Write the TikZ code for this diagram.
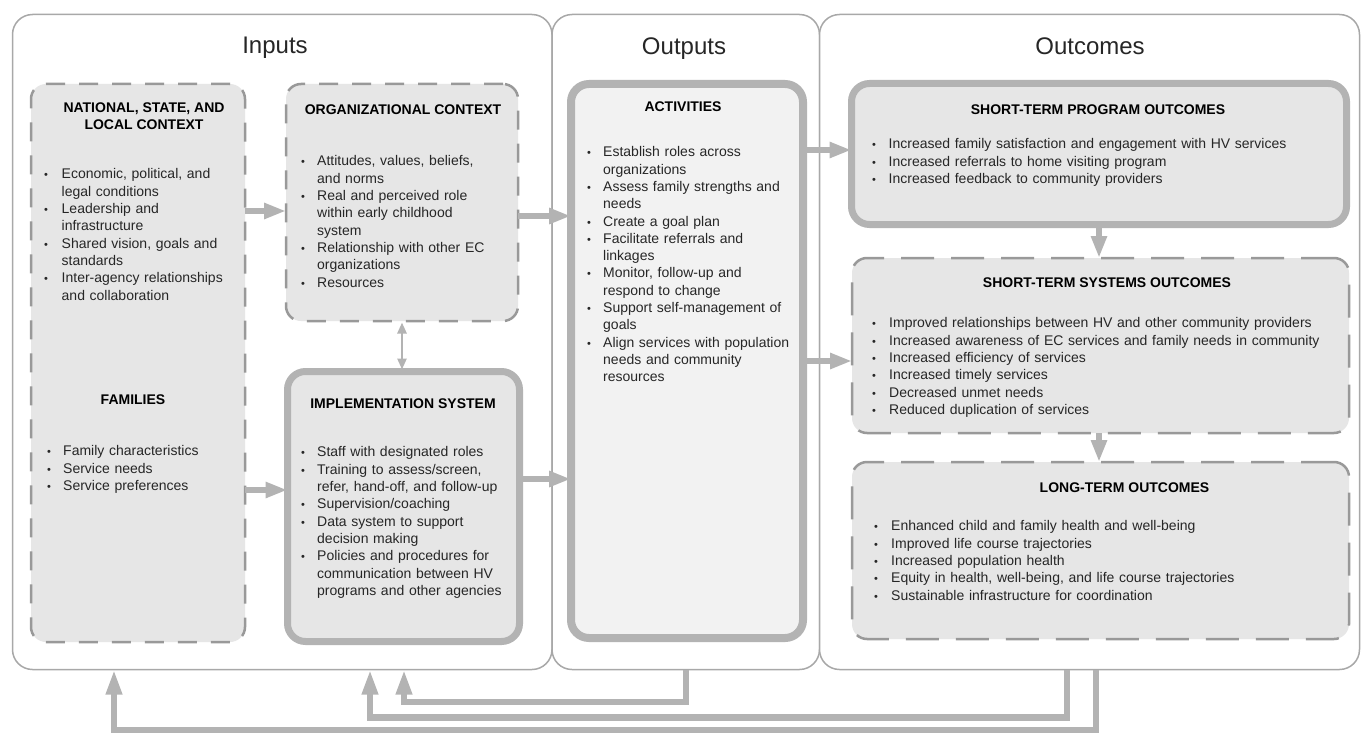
\documentclass[tikz,border=0pt]{standalone}
\usepackage{fontspec}
\setmainfont{Liberation Sans}
\usetikzlibrary{arrows.meta}
\definecolor{panelc}{HTML}{A8A8A8}
\definecolor{boxfill}{HTML}{E6E6E6}
\definecolor{actfill}{HTML}{F2F2F2}
\definecolor{dashc}{HTML}{999999}
\definecolor{thickc}{HTML}{B3B3B3}
\definecolor{arrc}{HTML}{B3B3B3}
\definecolor{txt}{HTML}{262626}
\newlength\hangw
\newcommand\bul{{\fontsize{11}{11}\selectfont\textbullet}}
\newcommand\bi{\par\hangindent=\hangw\hangafter=1\noindent\makebox[\hangw][l]{\strut\bul}}
\begin{document}
\begin{tikzpicture}[x=1pt,y=-1pt,
  panel/.style={draw=panelc, line width=1.5pt, rounded corners=20pt, inner sep=0pt, outer sep=0pt, fill=white},
  dbox/.style={draw=dashc, line width=2.5pt, dash pattern=on 19pt off 14pt, fill=boxfill, rounded corners=15pt, inner sep=0pt, outer sep=0pt},
  dboxw/.style={dbox, dash pattern=on 33pt off 17pt},
  tbox/.style={draw=thickc, line width=7pt, fill=boxfill, rounded corners=18pt, inner sep=0pt, outer sep=0pt},
  ptitle/.style={font=\fontsize{24}{28}\selectfont, inner sep=0pt, anchor=base, text=txt},
  ttl/.style={font=\bfseries\fontsize{14}{17}\selectfont, inner sep=0pt, text=black, align=center},
  blist/.style={anchor=north west, inner sep=0pt, text width=480pt, font=\fontsize{14}{17.3}\selectfont, text=txt, align=left},
  arr/.style={draw=arrc, line width=6.5pt, -{Triangle[length=22pt,width=15pt]}, arrc},
  darr/.style={draw=arrc, line width=2.5pt, {Triangle[length=11pt,width=9pt]}-{Triangle[length=11pt,width=9pt]}, arrc},
  fb/.style={arr, -{Triangle[length=25pt,width=15pt]}}
]
\useasboundingbox (0,0) rectangle (1362,733);

% panels
\node[panel, minimum width=539.5pt, minimum height=655pt] (inp) at (282.25,342) {};
\node[panel, minimum width=267.5pt, minimum height=655pt] (outp) at (685.75,342) {};
\node[panel, minimum width=540pt, minimum height=655pt] (outc) at (1089.5,342) {};
\node[ptitle] (tin) at (275,54) {Inputs};
\node[ptitle] (tout) at (684,55) {Outputs};
\node[ptitle] (toc) at (1090,55) {Outcomes};

% boxes
\node[dbox, minimum width=214pt, minimum height=558pt] (nat) at (138,363) {};
\node[dbox, minimum width=232pt, minimum height=237pt] (org) at (402,202.5) {};
\node[tbox, minimum width=232pt, minimum height=270pt] (impl) at (403.5,506.5) {};
\node[tbox, fill=actfill, line width=8pt, minimum width=232pt, minimum height=554pt] (act) at (687,361) {};
\node[tbox, minimum width=495pt, minimum height=141pt] (prog) at (1099,154) {};
\node[dboxw, minimum width=497pt, minimum height=175pt] (sys) at (1100.5,345.5) {};
\node[dboxw, minimum width=497pt, minimum height=177pt] (lt) at (1100.5,550.5) {};

% titles
\node[ttl, anchor=north] (natt) at (144,103) {NATIONAL, STATE, AND\\LOCAL CONTEXT};
\node[ttl, anchor=base] (famt) at (133,404) {FAMILIES};
\node[ttl, anchor=base] (orgt) at (403,114) {ORGANIZATIONAL CONTEXT};
\node[ttl, anchor=base] (implt) at (403,408) {IMPLEMENTATION SYSTEM};
\node[ttl, anchor=base] (actt) at (683,112) {ACTIVITIES};
\node[ttl, anchor=base] (progt) at (1098,114) {SHORT-TERM PROGRAM OUTCOMES};
\node[ttl, anchor=base] (syst) at (1107,287) {SHORT-TERM SYSTEMS OUTCOMES};
\node[ttl, anchor=base] (ltt) at (1124.5,492) {LONG-TERM OUTCOMES};

% lists
\node[blist] (natl) at (44,161.4) {\setlength\hangw{17.5pt}%
\bi Economic, political, and\newline legal conditions
\bi Leadership and\newline infrastructure
\bi Shared vision, goals and\newline standards
\bi Inter-agency relationships\newline and collaboration\par};
\node[blist] (faml) at (47,438.4) {\setlength\hangw{16pt}%
\bi Family characteristics
\bi Service needs
\bi Service preferences\par};
\node[blist] (orgl) at (301,148.4) {\setlength\hangw{16pt}%
\bi Attitudes, values, beliefs,\newline and norms
\bi Real and perceived role\newline within early childhood\newline system
\bi Relationship with other EC\newline organizations
\bi Resources\par};
\node[blist] (impll) at (301,439.4) {\setlength\hangw{16pt}%
\bi Staff with designated roles
\bi Training to assess/screen,\newline refer, hand-off, and follow-up
\bi Supervision/coaching
\bi Data system to support\newline decision making
\bi Policies and procedures for\newline communication between HV\newline programs and other agencies\par};
\node[blist] (actl) at (587,139.4) {\setlength\hangw{16pt}%
\bi Establish roles across\newline organizations
\bi Assess family strengths and\newline needs
\bi Create a goal plan
\bi Facilitate referrals and\newline linkages
\bi Monitor, follow-up and\newline respond to change
\bi Support self-management of\newline goals
\bi Align services with population\newline needs and community\newline resources\par};
\node[blist] (progl) at (872,131.4) {\setlength\hangw{16.5pt}%
\bi Increased family satisfaction and engagement with HV services
\bi Increased referrals to home visiting program
\bi Increased feedback to community providers\par};
\node[blist] (sysl) at (872,310.4) {\setlength\hangw{17pt}%
\bi Improved relationships between HV and other community providers
\bi Increased awareness of EC services and family needs in community
\bi Increased efficiency of services
\bi Increased timely services
\bi Decreased unmet needs
\bi Reduced duplication of services\par};
\node[blist] (ltl) at (874,513.4) {\setlength\hangw{17pt}%
\bi Enhanced child and family health and well-being
\bi Improved life course trajectories
\bi Increased population health
\bi Equity in health, well-being, and life course trajectories
\bi Sustainable infrastructure for coordination\par};

% helper levels
\coordinate (y211) at (0,211);
\coordinate (y490) at (0,490);
\coordinate (y216) at (0,216);
\coordinate (y479) at (0,479);
\coordinate (y150) at (0,150);
\coordinate (y361) at (0,361);
\coordinate (x1099) at (1099,0);
\coordinate (x402) at (402,0);

% arrows
\draw[arr] (nat.east |- y211) -- (org.west |- y211);
\draw[arr] (nat.east |- y490) -- (impl.west |- y490);
\draw[arr] (org.east |- y216) -- (act.west |- y216);
\draw[arr] (impl.east |- y479) -- (act.west |- y479);
\draw[arr] (act.east |- y150) -- (prog.west |- y150);
\draw[arr] (act.east |- y361) -- (sys.west |- y361);
\draw[arr] (prog.south -| x1099) -- (sys.north -| x1099);
\draw[arr] (sys.south -| x1099) -- (lt.north -| x1099);
\draw[darr] ([yshift=-1.5pt]org.south -| x402) -- ([yshift=2pt]impl.north -| x402);

% feedback loops
\coordinate (fb1) at (404,702);
\coordinate (fb2) at (370,717.5);
\coordinate (fb3) at (114,730);
\coordinate (fx2) at (1067,0);
\coordinate (fx3) at (1096,0);
\draw[fb] (outp.south) |- (fb1) -- (fb1 |- inp.south);
\draw[fb] (outc.south -| fx2) |- (fb2) -- (fb2 |- inp.south);
\draw[fb] (outc.south -| fx3) |- (fb3) -- (fb3 |- inp.south);
\end{tikzpicture}
\end{document}
